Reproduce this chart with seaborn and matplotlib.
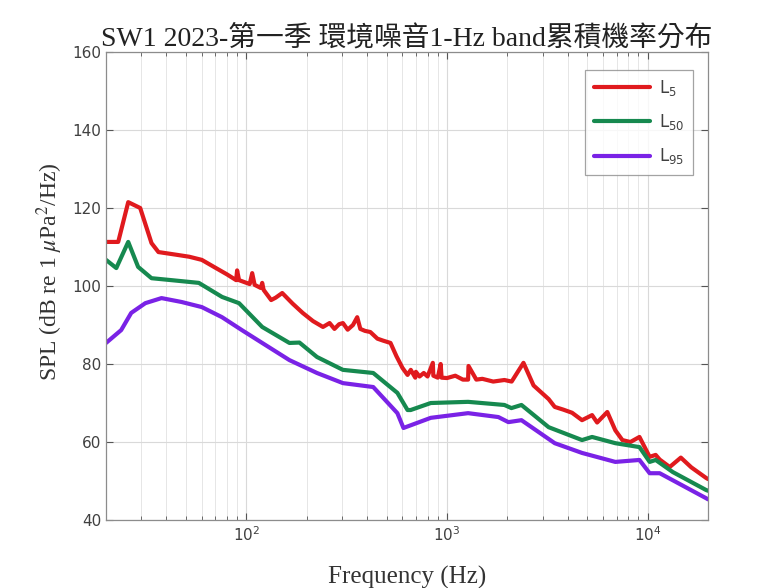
import numpy as np
import pandas as pd
import matplotlib
matplotlib.use('Agg')
import matplotlib.pyplot as plt
import matplotlib.ticker as mticker
import seaborn as sns

# L5 (red) curve
l5_freq = [20, 23, 25.8, 29.6, 33.7, 36.5, 45, 52, 60, 70.6, 80, 89, 90, 92, 104, 107,
           110, 118, 120, 122, 133, 140, 151, 170, 191, 215, 241, 260, 275, 290, 303,
           320, 340, 357, 370, 390, 415, 450, 480, 523, 560, 600, 636, 660, 695, 700,
           730, 766, 800, 850, 855, 900, 930, 940, 1000, 1100, 1200, 1274, 1280, 1400,
           1500, 1700, 1932, 2100, 2405, 2700, 3211, 3443, 3800, 4200, 4709, 5284, 5600,
           6292, 6900, 7480, 8200, 9100, 10230, 10960, 11480, 12880, 14630, 16500,
           19540, 20000]
l5_spl = [111.3, 111.3, 121.5, 120.0, 111.0, 108.7, 108.0, 107.5, 106.7, 104.6, 103.0,
          101.5, 104.0, 101.5, 100.5, 103.3, 100.3, 99.5, 100.8, 99.0, 96.4, 97.0, 98.2,
          95.5, 93.1, 91.0, 89.5, 90.5, 89.0, 90.2, 90.5, 88.8, 90.0, 92.0, 89.0, 88.5,
          88.2, 86.5, 86.0, 85.4, 82.0, 79.0, 77.2, 78.5, 76.5, 78.0, 76.8, 77.7, 76.8,
          80.3, 77.0, 76.5, 80.0, 76.5, 76.4, 77.0, 76.0, 76.0, 79.5, 76.0, 76.2, 75.5,
          75.9, 75.5, 80.3, 74.5, 71.0, 69.0, 68.3, 67.5, 65.6, 66.9, 65.0, 67.7, 63.0,
          60.5, 60.0, 61.3, 56.2, 56.7, 55.5, 53.6, 56.0, 53.5, 50.8, 50.5]

# L50 (green)
l50_freq = [20, 22.5, 25.8, 28.9, 33.7, 42.4, 58, 75.7, 92, 120, 164, 184, 225, 303,
            429, 566, 636, 659, 830, 1274, 1932, 2094, 2350, 3211, 4709, 5284, 6900,
            9100, 10230, 10960, 13340, 19540, 20000]
l50_spl = [106.7, 104.6, 111.3, 104.9, 102.0, 101.5, 100.8, 97.2, 95.6, 89.5, 85.4,
           85.5, 81.8, 78.5, 77.7, 72.6, 68.2, 68.2, 70.0, 70.3, 69.5, 68.7, 69.5, 63.8,
           60.5, 61.3, 59.7, 58.7, 54.9, 55.4, 52.3, 47.7, 47.5]

# L95 (purple)
l95_freq = [20, 23.8, 26.7, 31.4, 37.8, 47.6, 60, 75.7, 95, 120, 164, 225, 303, 429,
            566, 607, 830, 1274, 1803, 2023, 2350, 3443, 4709, 6900, 9100, 10230,
            11480, 19540, 20000]
l95_spl = [85.4, 88.7, 93.1, 95.6, 96.9, 95.9, 94.6, 92.0, 88.7, 85.4, 81.0, 77.7, 75.1,
           74.1, 67.4, 63.6, 66.2, 67.4, 66.4, 65.1, 65.6, 59.7, 57.2, 54.9, 55.4, 52.0,
           52.0, 45.6, 45.3]

labels = [r'$\mathregular{L_{5}}$', r'$\mathregular{L_{50}}$', r'$\mathregular{L_{95}}$']
colors = ['#e01a1e', '#16894f', '#7a22e6']

sns.set_style('ticks')
plt.rcParams['mathtext.fontset'] = 'stix'

df = pd.concat([
    pd.DataFrame({'freq': l5_freq, 'spl': l5_spl, 'level': labels[0]}),
    pd.DataFrame({'freq': l50_freq, 'spl': l50_spl, 'level': labels[1]}),
    pd.DataFrame({'freq': l95_freq, 'spl': l95_spl, 'level': labels[2]}),
])

fig = plt.figure(figsize=(7.65, 5.88), dpi=100)
ax = fig.add_axes([0.1386, 0.1156, 0.787, 0.796])

sns.lineplot(data=df, x='freq', y='spl', hue='level', palette=colors,
             linewidth=3, estimator=None, sort=True, ax=ax)

ax.set_xscale('log')
ax.set_xlim(20, 20000)
ax.set_ylim(40, 160)
ax.set_yticks(np.arange(40, 161, 20))
ax.xaxis.set_minor_locator(mticker.LogLocator(base=10, subs=np.arange(2, 10)))
ax.xaxis.set_minor_formatter(mticker.NullFormatter())

ax.grid(True, which='major', color='#d9d9d9', linewidth=0.8)
ax.grid(True, which='minor', axis='x', color='#e6e6e6', linewidth=0.7)

for sp in ax.spines.values():
    sp.set_visible(True)
    sp.set_color('#8c8c8c')
    sp.set_linewidth(0.9)
ax.tick_params(which='both', direction='in', top=True, right=True, colors='#555555',
               labelcolor='#404040', labelsize=11)
ax.tick_params(which='major', length=5)
ax.tick_params(which='minor', length=3)

serif = ['Liberation Serif', 'Noto Sans CJK TC']
ax.set_xlabel('Frequency (Hz)', fontsize=18, family=serif, color='#333333', labelpad=16)
ax.set_ylabel(r'SPL (dB re 1 $\mu$Pa$^2$/Hz)', fontsize=17, family=serif,
              color='#333333')
ax.yaxis.set_label_coords(-0.068, 0.53)
ax.set_title('SW1 2023-第一季 環境噪音1-Hz band累積機率分布', fontsize=20,
             family=serif, color='#222222', pad=5)

leg = ax.legend(loc='upper right', handlelength=3.4, fontsize=12, frameon=True,
                fancybox=False, borderpad=0.5, labelspacing=0.85, handletextpad=0.5,
                bbox_to_anchor=(0.988, 0.98))
leg.get_frame().set_edgecolor('#8c8c8c')
leg.get_frame().set_linewidth(0.9)
for t in leg.get_texts():
    t.set_color('#404040')

fig.savefig('out.png', dpi=100)
